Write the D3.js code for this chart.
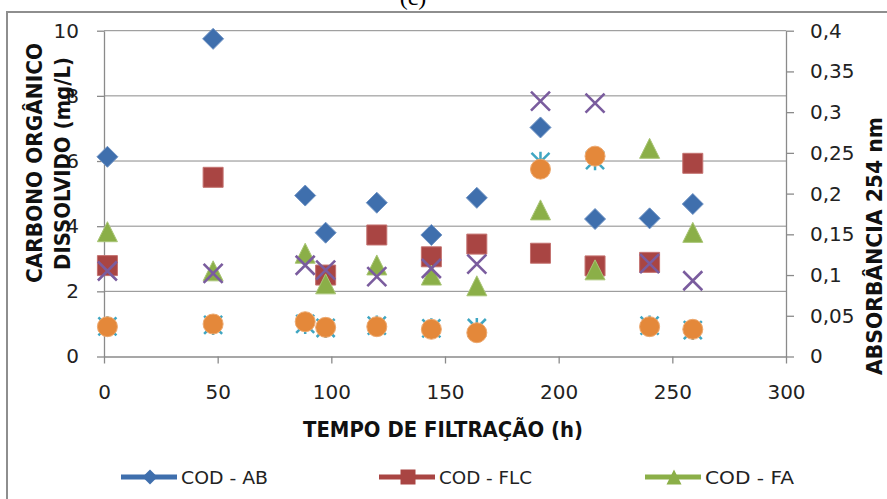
<!DOCTYPE html>
<html><head><meta charset="utf-8">
<script src="https://cdn.jsdelivr.net/npm/d3@7"></script>
<style>
html,body{margin:0;padding:0;background:#fff;}
svg{display:block;}
</style></head>
<body>
<svg id="chart" width="887" height="499"></svg>
<script>
// ---- data ----
const times    = [1.5, 48, 88.5, 97.5, 120, 144, 164, 192, 216, 240, 259];
const codAB    = [6.13, 9.75, 4.94, 3.80, 4.72, 3.73, 4.87, 7.03, 4.22, 4.24, 4.68];
const codFLC   = [2.79, 5.50, null, 2.50, 3.73, 3.06, 3.45, 3.17, 2.78, 2.89, 5.93];
const codFA    = [3.83, 2.63, 3.17, 2.23, 2.81, 2.50, 2.17, 4.50, 2.66, 6.39, 3.81];
const absAB    = [0.105, 0.102, 0.112, 0.106, 0.098, 0.108, 0.1135, 0.3135, 0.311, 0.114, 0.093];
const absFLC   = [0.037, 0.0387, 0.040, 0.035, 0.038, 0.0346, 0.035, 0.239, 0.241, 0.038, 0.0325];
const absFA    = [0.0366, 0.0399, 0.0427, 0.0358, 0.0366, 0.0334, 0.0292, 0.230, 0.246, 0.0366, 0.0334];
const xTicks   = [0, 50, 100, 150, 200, 250, 300];
const yTicks   = [0, 2, 4, 6, 8, 10];
const rTicks   = [0, 0.05, 0.1, 0.15, 0.2, 0.25, 0.3, 0.35, 0.4];
const legendNames = ["COD - AB", "COD - FLC", "COD - FA"];

const svg = d3.select("#chart");
const pLeft = 104, pRight = 786, pTop = 30.7, pBottom = 356.5;

const x  = d3.scaleLinear().domain([0, 300]).range([pLeft, pRight]);
const yL = d3.scaleLinear().domain([0, 10]).range([pBottom, pTop]);
const yR = d3.scaleLinear().domain([0, 0.4]).range([pBottom, pTop]);

const gridC = "#8a8a8a";
const font = "'DejaVu Sans', sans-serif";

// frame
svg.append("rect").attr("x", 7).attr("y", 12).attr("width", 900).attr("height", 520)
  .attr("fill", "none").attr("stroke", "#8e8e8e").attr("stroke-width", 2);

// title (c)
svg.append("text").attr("x", 413).attr("y", 5).attr("text-anchor", "middle")
  .attr("font-family", "'Liberation Serif', serif").attr("font-size", 24).text("(c)");

// gridlines
svg.append("g").selectAll("line").data(yTicks.filter(d => d > 0)).join("line")
  .attr("x1", pLeft).attr("x2", pRight).attr("y1", d => yL(d)).attr("y2", d => yL(d))
  .attr("stroke", gridC).attr("stroke-width", 1);

// axes
function styleAxis(g) {
  g.selectAll("path.domain").attr("stroke", gridC).attr("stroke-width", 1.3);
  g.selectAll(".tick line").attr("stroke", gridC).attr("stroke-width", 1.3);
  g.selectAll("text").attr("font-family", font).attr("font-size", 20).attr("fill", "#222");
}
svg.append("g").attr("transform", `translate(${pLeft},0)`)
  .call(d3.axisLeft(yL).tickValues(yTicks).tickSizeInner(7).tickSizeOuter(0).tickPadding(18).tickFormat(d3.format("d")))
  .call(styleAxis);
svg.append("g").attr("transform", `translate(${pRight},0)`)
  .call(d3.axisRight(yR).tickValues(rTicks).tickSizeInner(8).tickSizeOuter(0).tickPadding(16)
    .tickFormat(d => d3.format("~g")(d).replace(".", ",")))
  .call(styleAxis);
svg.append("g").attr("transform", `translate(0,${pBottom})`)
  .call(d3.axisBottom(x).tickValues(xTicks).tickSizeInner(7).tickSizeOuter(0).tickPadding(21))
  .call(styleAxis);

// axis titles
svg.append("text").attr("x", 443).attr("y", 437).attr("text-anchor", "middle")
  .attr("font-family", font).attr("font-weight", "bold").attr("font-size", 20.5)
  .attr("textLength", 280).attr("lengthAdjust", "spacingAndGlyphs").attr("fill", "#111")
  .text("TEMPO DE FILTRAÇÃO (h)");

svg.append("text").attr("transform", "translate(42,163) rotate(-90)").attr("text-anchor", "middle")
  .attr("font-family", font).attr("font-weight", "bold").attr("font-size", 22)
  .attr("textLength", 240).attr("lengthAdjust", "spacingAndGlyphs").attr("fill", "#111")
  .text("CARBONO ORGÂNICO");
svg.append("text").attr("transform", "translate(70,163.5) rotate(-90)").attr("text-anchor", "middle")
  .attr("font-family", font).attr("font-weight", "bold").attr("font-size", 22)
  .attr("textLength", 213).attr("lengthAdjust", "spacingAndGlyphs").attr("fill", "#111")
  .text("DISSOLVIDO (mg/L)");
svg.append("text").attr("transform", "translate(882,246) rotate(-90)").attr("text-anchor", "middle")
  .attr("font-family", font).attr("font-weight", "bold").attr("font-size", 21)
  .attr("textLength", 258).attr("lengthAdjust", "spacingAndGlyphs").attr("fill", "#111")
  .text("ABSORBÂNCIA 254 nm");

// marker shapes (relative to center, size s)
const shapes = {
  diamond: s => { const p = d3.path(); p.moveTo(0,-s/2); p.lineTo(s/2,0); p.lineTo(0,s/2); p.lineTo(-s/2,0); p.closePath(); return p.toString(); },
  square: s => { const p = d3.path(); const h = s/2; p.rect(-h,-h,s,s); return p.toString(); },
  triangle: s => { const p = d3.path(); p.moveTo(0,-s/2); p.lineTo(s/2,s/2); p.lineTo(-s/2,s/2); p.closePath(); return p.toString(); },
  cross: s => { const p = d3.path(); const h = s/2 - 1; p.moveTo(-h,-h); p.lineTo(h,h); p.moveTo(h,-h); p.lineTo(-h,h); return p.toString(); },
  star: s => { const p = d3.path(); const h = s/2 - 1; p.moveTo(-h,-h); p.lineTo(h,h); p.moveTo(h,-h); p.lineTo(-h,h); p.moveTo(0,-h-1); p.lineTo(0,h+1); return p.toString(); },
  circle: s => { const p = d3.path(); p.arc(0,0,s/2,0,2*Math.PI); return p.toString(); }
};

const series = [
  {vals: codAB,  y: yL, shape: "diamond",  size: 21, fill: "#3F6FAD", stroke: "#6f93c4"},
  {vals: codFLC, y: yL, shape: "square",   size: 20, fill: "#A94543", stroke: "#c47270"},
  {vals: codFA,  y: yL, shape: "triangle", size: 20, fill: "#8BAF48", stroke: "#a9c576"},
  {vals: absAB,  y: yR, shape: "cross",    size: 21, fill: "none", stroke: "#7A5C9E", sw: 2.6},
  {vals: absFLC, y: yR, shape: "star",     size: 20, fill: "none", stroke: "#3FA6C2", sw: 2.5},
  {vals: absFA,  y: yR, shape: "circle",   size: 20, fill: "#E4883A", stroke: "#eda86e"}
];

series.forEach(s => {
  const pts = times.map((t, i) => ({t, v: s.vals[i]})).filter(d => d.v != null);
  svg.append("g").selectAll("path").data(pts).join("path")
    .attr("transform", d => `translate(${x(d.t)},${s.y(d.v)})`)
    .attr("d", shapes[s.shape](s.size))
    .attr("fill", s.fill)
    .attr("stroke", s.stroke)
    .attr("stroke-width", s.sw || 1)
    .attr("stroke-linejoin", "round");
});

// legend
const legendX = [121, 379, 645];
const legendY = 477;
legendNames.forEach((name, i) => {
  const s = series[i];
  const g = svg.append("g");
  g.append("line").attr("x1", legendX[i]).attr("x2", legendX[i] + 56).attr("y1", legendY).attr("y2", legendY)
    .attr("stroke", s.fill).attr("stroke-width", 5);
  g.append("path").attr("transform", `translate(${legendX[i] + 29},${legendY})`)
    .attr("d", shapes[s.shape](15)).attr("fill", s.fill);
  g.append("text").attr("x", legendX[i] + 60).attr("y", 483.5)
    .attr("font-family", font).attr("font-size", 18).attr("fill", "#222")
    .attr("textLength", i === 0 ? 87 : (i === 1 ? 93 : 89)).attr("lengthAdjust", "spacingAndGlyphs")
    .text(name);
});
</script>
</body></html>
